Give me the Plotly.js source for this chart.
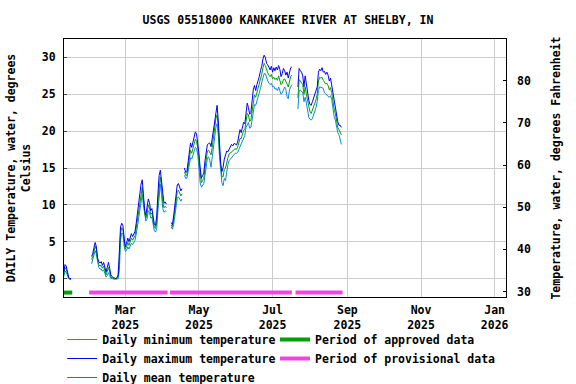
<!DOCTYPE html>
<html><head><meta charset="utf-8">
<script src="https://cdn.plot.ly/plotly-3.0.1.min.js"></script>
<style>html,body{margin:0;padding:0;background:#fff}#chart{width:576px;height:384px}</style>
</head><body><div id="chart"></div>
<script>
// Daily series start date (one value per day, null = no data)
const startDate = '2025-01-09';

const tMax = [
  // Jan 9-15
  0.9,1.9,1.7,1.0,0.2,0.0,0.0,
  // Jan 16-31 gap
  null,null,null,null,null,null,null,null,null,null,null,null,null,null,null,null,
  // Feb
  3.0,3.4,4.2,4.9,4.3,2.8,2.3,2.1,2.3,1.8,2.2,1.7,0.9,1.5,2.2,1.4,0.5,0.3,0.1,0.1,0.0,0.1,0.5,3.5,7.0,7.5,7.2,5.5,
  // Mar
  4.3,4.8,5.5,5.0,5.6,6.1,5.7,6.0,6.4,7.5,9.0,10.2,11.4,12.8,13.4,11.5,9.3,8.6,9.5,10.8,10.3,9.2,9.5,8.6,7.4,7.2,8.5,11.5,14.0,14.7,13.2,
  // Apr 1-4, gap 5-7, 8-17, gap 18, 19-30
  11.0,10.2,10.4,10.1,null,null,null,
  7.6,7.3,8.5,10.2,11.8,12.7,12.9,12.2,11.9,12.2,null,
  15.0,14.4,14.5,16.0,17.5,18.4,17.8,18.5,19.2,19.9,19.6,18.6,
  // May
  17.0,15.0,13.6,14.0,14.3,16.0,17.4,18.2,18.3,18.4,17.9,19.0,20.4,21.8,22.9,23.5,21.5,18.0,15.5,14.5,15.1,16.2,17.0,17.3,17.2,17.6,17.9,18.2,18.0,18.3,18.3,
  // Jun
  18.1,18.5,19.3,20.2,19.8,20.5,21.2,21.0,22.8,23.8,23.2,22.3,22.5,24.2,25.6,26.2,25.5,26.3,26.8,27.4,28.2,28.8,29.8,30.3,30.0,29.2,29.0,28.6,28.3,28.8,
  // Jul 1-17, gap 18-21, 22-31
  28.0,28.6,28.2,28.7,28.3,28.9,28.4,27.4,27.8,28.5,28.2,27.6,28.0,27.2,28.0,28.6,28.7,
  null,null,null,null,
  26.0,28.5,28.2,28.0,27.5,26.0,27.5,26.3,25.4,24.2,
  // Aug 1-27
  23.6,23.5,24.0,24.5,25.0,25.2,26.0,28.0,28.4,28.2,28.6,28.0,28.1,27.7,28.0,27.6,26.8,27.2,26.2,25.0,24.0,23.3,22.0,21.3,20.8,20.8,20.5
];

const tMean = [
  0.6,1.5,1.3,0.7,0.1,-0.1,-0.1,
  null,null,null,null,null,null,null,null,null,null,null,null,null,null,null,null,
  2.6,3.0,3.7,4.4,3.9,2.4,1.9,1.7,1.8,1.4,1.7,1.2,0.5,1.0,1.5,0.9,0.2,0.1,0.0,0.0,0.0,0.0,0.2,2.3,6.2,6.9,6.6,5.0,
  4.0,4.3,4.9,4.5,5.0,5.5,5.2,5.5,5.8,6.8,8.0,9.3,10.4,11.8,12.4,10.8,8.9,8.2,8.8,10.0,9.6,8.7,8.9,8.0,7.0,6.8,7.6,10.4,12.8,13.8,12.4,
  10.3,9.6,9.8,9.6,null,null,null,
  7.3,7.0,7.9,9.3,10.9,11.8,12.0,11.5,11.2,11.5,null,
  14.5,14.0,14.0,15.3,16.6,17.4,17.0,17.6,18.2,18.9,18.6,17.7,
  16.0,14.0,13.0,13.3,13.6,15.0,16.4,17.3,17.4,17.1,16.8,17.8,19.2,20.6,21.7,22.2,20.5,17.4,14.8,13.8,13.8,14.8,15.0,15.9,16.4,16.9,17.0,17.2,17.3,17.5,17.6,
  17.5,17.8,18.4,19.0,19.0,19.5,20.1,20.2,21.7,22.4,22.2,21.3,21.5,22.8,24.2,24.9,24.6,25.2,25.6,26.2,27.0,27.7,28.6,29.2,28.9,28.2,27.9,27.6,27.4,27.7,
  27.1,27.3,27.0,27.2,26.9,27.5,27.0,26.3,26.5,27.0,27.1,26.6,26.4,26.0,26.8,27.4,27.6,
  null,null,null,null,
  24.5,27.0,26.8,26.6,26.3,25.0,26.0,25.0,24.0,23.0,
  22.6,22.4,22.8,23.3,23.8,24.3,25.0,26.8,27.3,27.2,27.3,26.9,26.6,26.4,26.5,26.2,25.6,25.9,25.2,24.0,23.0,22.4,21.2,20.5,20.2,19.9,19.5
];

const tMin = [
  0.3,1.0,0.9,0.3,0.0,-0.1,-0.1,
  null,null,null,null,null,null,null,null,null,null,null,null,null,null,null,null,
  2.0,2.6,3.1,3.8,3.3,2.0,1.5,1.3,1.3,1.0,1.2,0.7,0.2,0.4,0.8,0.4,0.0,0.0,-0.1,-0.1,-0.1,-0.1,0.0,1.0,5.2,6.2,6.0,4.4,
  3.7,3.8,4.3,4.0,4.4,4.8,4.6,5.0,5.2,6.0,7.2,8.3,9.5,10.8,11.4,10.0,8.4,7.8,8.1,9.2,9.0,8.2,8.3,7.4,6.5,6.3,6.8,9.3,11.5,12.8,11.4,
  9.5,9.0,9.2,9.1,null,null,null,
  7.0,6.7,7.3,8.4,9.9,10.9,11.1,10.8,10.5,10.8,null,
  14.0,13.6,13.6,14.6,15.7,16.4,16.2,16.7,17.2,17.8,17.6,16.8,
  15.0,13.0,12.4,12.6,12.9,14.0,15.4,16.4,16.5,16.0,15.1,16.5,18.0,19.4,20.5,21.0,19.5,16.6,14.0,13.0,12.6,13.6,13.3,14.6,15.5,16.0,16.2,16.3,16.6,16.8,17.0,
  17.0,17.1,17.5,17.9,18.2,18.6,19.0,19.4,20.5,21.0,21.2,20.4,20.5,21.5,22.8,23.6,23.5,24.0,24.5,25.0,25.8,26.6,27.3,27.8,27.8,27.1,26.8,26.5,26.3,26.5,
  26.0,26.1,25.7,25.8,25.5,26.0,25.6,25.0,25.2,25.5,26.0,25.6,24.7,24.4,25.6,26.0,26.3,
  null,null,null,null,
  23.0,25.5,25.6,25.4,25.2,24.0,24.6,23.8,22.7,21.9,
  21.6,21.5,21.7,22.2,22.6,23.2,24.0,25.5,26.0,26.0,25.9,25.8,25.2,25.1,24.8,24.7,24.6,24.8,24.3,23.0,22.0,21.5,20.5,19.8,19.5,19.0,18.2
];

// Data-quality periods
const approvedStart = ['2025-01-09'];
const approvedEnd = ['2025-01-16'];
const provisionalStart = ['2025-01-30','2025-04-07','2025-07-20'];
const provisionalEnd = ['2025-04-05','2025-07-17','2025-08-28'];

// Axis ticks
const tickDates = ['2025-03-01','2025-05-01','2025-07-01','2025-09-01','2025-11-01','2026-01-01'];
const tickLabels = ['Mar<br>2025','May<br>2025','Jul<br>2025','Sep<br>2025','Nov<br>2025','Jan<br>2026'];
const cTicks = [0,5,10,15,20,25,30];
const fTicks = [30,40,50,60,70,80];

// ---- build ----
function dayList(start, n){
  const p = start.split('-').map(Number);
  const out = [];
  for(let i=0;i<n;i++){
    const d = new Date(Date.UTC(p[0], p[1]-1, p[2]+i));
    out.push(d.toISOString().slice(0,10));
  }
  return out;
}
const dates = dayList(startDate, tMax.length);
const BAR_LEVEL = -1.9;
function periodTrace(starts, ends){
  const x=[], y=[];
  for(let i=0;i<starts.length;i++){ x.push(starts[i], ends[i], null); y.push(BAR_LEVEL, BAR_LEVEL, null); }
  return {x, y};
}
const appr = periodTrace(approvedStart, approvedEnd);
const prov = periodTrace(provisionalStart, provisionalEnd);

const FONT = {family:'"DejaVu Sans Mono", monospace', size:11.5, color:'#000', weight:'bold'};

const traces = [
  {x:dates, y:tMin, mode:'lines', name:'Daily minimum temperature', line:{color:'#0a8ad8', width:1}, legend:'legend', legendrank:1, connectgaps:false},
  {x:dates, y:tMean, mode:'lines', name:'Daily mean temperature', line:{color:'#00a000', width:1}, legend:'legend', legendrank:3, connectgaps:false},
  {x:dates, y:tMax, mode:'lines', name:'Daily maximum temperature', line:{color:'#0000ff', width:1}, legend:'legend', legendrank:2, connectgaps:false},
  {x:appr.x, y:appr.y, mode:'lines', name:'Period of approved data', line:{color:'#00a000', width:4}, legend:'legend2', legendrank:1},
  {x:prov.x, y:prov.y, mode:'lines', name:'Period of provisional data', line:{color:'#f046e0', width:4}, legend:'legend2', legendrank:2},
  // carrier for the Fahrenheit axis (no points)
  {x:[null], y:[null], yaxis:'y2', mode:'lines', showlegend:false, hoverinfo:'skip'}
];

const legendCommon = {orientation:'v', yanchor:'top', xanchor:'left', itemwidth:30, font:FONT,
  traceorder:'normal', bgcolor:'rgba(0,0,0,0)', borderwidth:0, tracegroupgap:0};

const layout = {
  width:576, height:384,
  margin:{l:64, r:70, t:39, b:87, autoexpand:false},
  paper_bgcolor:'#fff', plot_bgcolor:'#fff',
  font:FONT,
  title:{text:'USGS 05518000 KANKAKEE RIVER AT SHELBY, IN', x:0.5, xanchor:'center', y:1-19.5/384, yanchor:'middle', font:FONT},
  xaxis:{type:'date', range:['2025-01-09 04:00','2026-01-10 10:00'], tickmode:'array', tickvals:tickDates, ticktext:tickLabels,
    showgrid:true, gridcolor:'#cccccc', gridwidth:1, showline:true, linecolor:'#000', linewidth:1, mirror:true,
    ticks:'', zeroline:false, tickfont:FONT, ticklabelstandoff:2},
  yaxis:{range:[-2.5,32.5], tickmode:'array', tickvals:cTicks, showgrid:true, gridcolor:'#cccccc', gridwidth:1,
    showline:true, linecolor:'#000', linewidth:1, mirror:true, ticks:'inside', ticklen:3, zeroline:false, tickfont:FONT,
    ticklabelstandoff:5,
    title:{text:'DAILY Temperature, water, degrees<br>Celsius', font:FONT, standoff:8}},
  yaxis2:{overlaying:'y', side:'right', range:[28.7,89.9], tickmode:'array', tickvals:fTicks, showgrid:false,
    ticks:'inside', ticklen:3, tickcolor:'#000', showline:false, zeroline:false, tickfont:FONT, ticklabelstandoff:10,
    title:{text:'Temperature, water, degrees Fahrenheit', font:FONT, standoff:22}},
  legend:Object.assign({}, legendCommon, {x:-0.004, y:-0.1085}),
  legend2:Object.assign({}, legendCommon, {x:0.4774, y:-0.1085}),
  showlegend:true
};

Plotly.newPlot('chart', traces, layout, {staticPlot:true, displayModeBar:false});
</script>
</body></html>
